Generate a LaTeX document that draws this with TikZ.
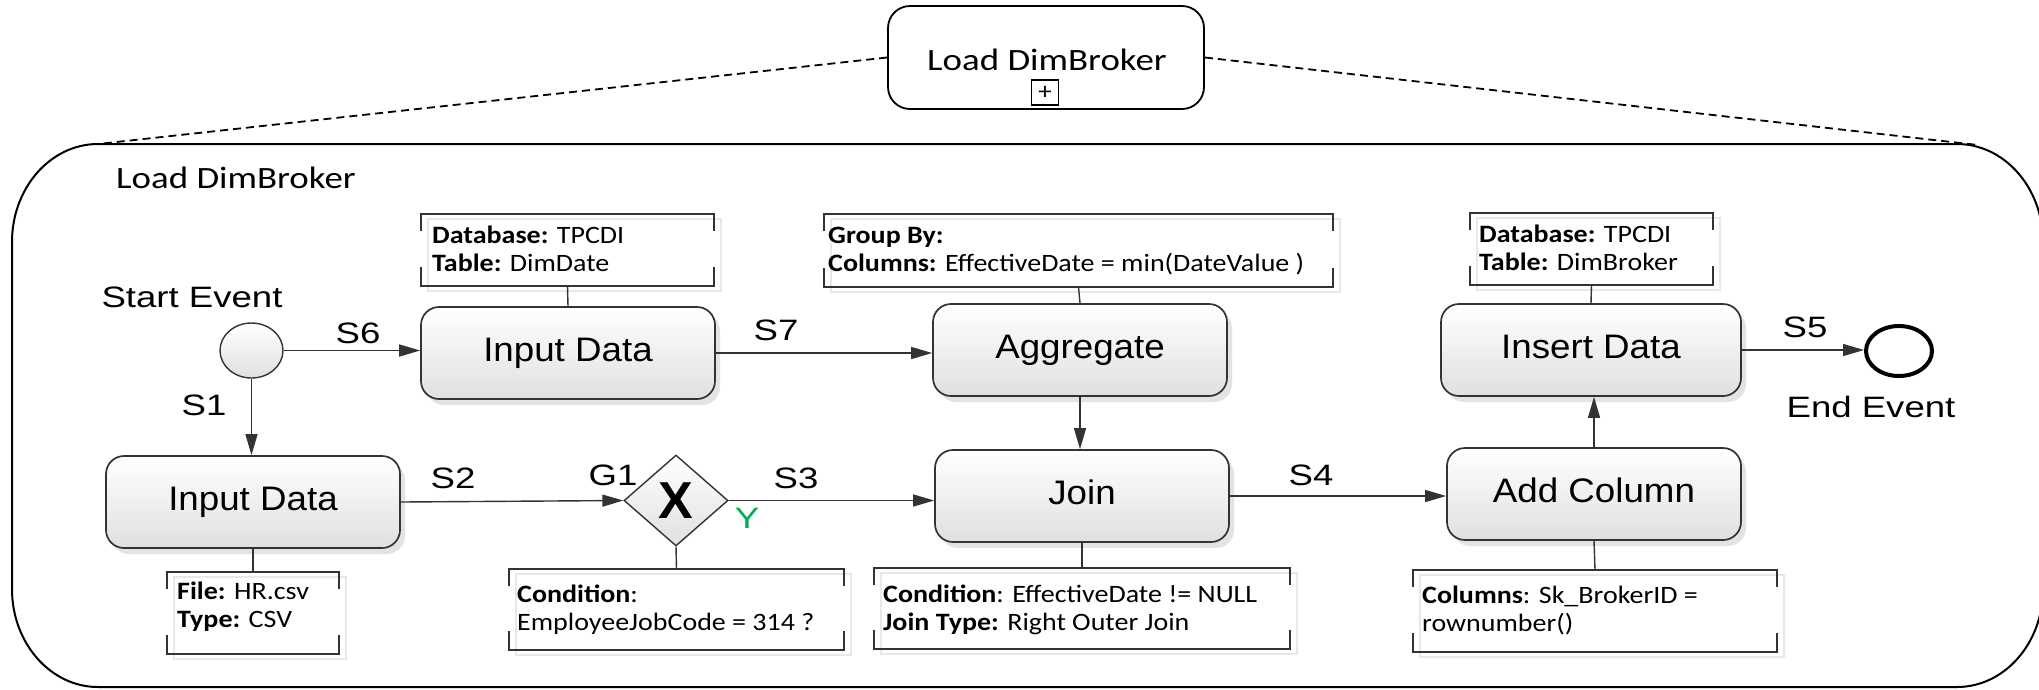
\documentclass[tikz,border=0pt]{standalone}
\usepackage{fontspec}
\usetikzlibrary{arrows.meta,shapes.geometric,shadows,calc}

% Fonts: Calibri-like for titles and annotations, Arial-like for flow labels
\newfontfamily\calfont[FakeStretch=1.12]{Carlito}
\newfontfamily\caltitle[FakeStretch=1.19]{Carlito}
\newfontfamily\arlabel[FakeStretch=1.24]{Liberation Sans}
\newfontfamily\artask[FakeStretch=1.08]{Liberation Sans}
\newfontfamily\argate{Liberation Sans}

\definecolor{edge}{HTML}{333333}
\definecolor{yesgreen}{HTML}{00B050}
\definecolor{taskgray}{HTML}{E0E0E0}

\tikzset{
  task/.style={rectangle, rounded corners=18pt, draw=edge, line width=1.7pt,
    top color=white, bottom color=taskgray, minimum width=294pt, minimum height=92pt,
    inner sep=0pt, text height=24pt, text depth=7pt,
    font=\artask\fontsize{34}{40}\selectfont,
    drop shadow={shadow xshift=5pt, shadow yshift=-6pt, fill=black!20, opacity=.55}},
  flow/.style={draw=edge, line width=1.4pt, -{Triangle[length=21pt,width=12pt]}},
  lbl/.style={anchor=base, inner sep=0pt, font=\arlabel\fontsize{29.5}{34}\selectfont},
  anntext/.style={anchor=base west, inner sep=0pt, font=\calfont\fontsize{25}{28}\selectfont},
  annframe/.style={rectangle, inner sep=0pt, outer sep=0pt},
  annline/.style={draw=edge, line width=1.7pt},
  annshadow/.style={draw=black!9, line width=1.5pt},
  assoc/.style={draw=edge, line width=1.4pt},
  dashline/.style={draw=black, line width=1.8pt, dash pattern=on 8pt off 5pt},
}

% text annotation: name, centre x, centre y, width, height, text x, first baseline, line 1, line 2
\newcommand\annot[9]{%
  \node[annframe, minimum width=#4pt, minimum height=#5pt] (#1) at (#2,#3) {};
  \draw[annshadow] ([shift={(7pt,-5pt)}]#1.north west) rectangle ([shift={(7pt,-5pt)}]#1.south east);
  \draw[annline] ([yshift=-17pt]#1.north west) -- (#1.north west) -- (#1.north east) -- ([yshift=-17pt]#1.north east);
  \draw[annline] ([yshift=19pt]#1.south west) -- (#1.south west) -- (#1.south east) -- ([yshift=19pt]#1.south east);
  \node[anntext] (#1-a) at (#6,#7) {#8};
  \node[anntext] (#1-b) at (#6,#7+28) {#9};
}

\begin{document}
\begin{tikzpicture}[x=1pt, y=-1pt]
\useasboundingbox (0,0) rectangle (2039,689);

% expanded sub-process frame with elliptic corners
\draw[line width=2pt]
  (98,144) -- (1957,144)
  arc[start angle=-90, end angle=0, x radius=86, y radius=98] -- (2043,589)
  arc[start angle=0, end angle=90, x radius=86, y radius=98] -- (98,687)
  arc[start angle=90, end angle=180, x radius=86, y radius=98] -- (12,242)
  arc[start angle=180, end angle=270, x radius=86, y radius=98] -- cycle;
\coordinate (cTL) at (98,144);
\coordinate (cTR) at (1978,145);
\node[anchor=base west, inner sep=0pt, font=\caltitle\fontsize{31}{36}\selectfont] (frameTitle) at (116,188) {Load DimBroker};

% collapsed sub-process
\node[rectangle, rounded corners=22pt, draw=black, line width=1.8pt, fill=white,
      minimum width=316pt, minimum height=103pt] (sub) at (1046,57.5) {};
\node[anchor=base, inner sep=0pt, font=\caltitle\fontsize{31}{36}\selectfont] (subTitle) at (1047,70) {Load DimBroker};
\node[draw=black, line width=1.2pt, minimum width=27pt, minimum height=25pt, inner sep=0pt,
      font=\calfont\fontsize{24}{26}\selectfont] (plus) at (1045,92.5) {+};
\draw[dashline] (sub.west) -- (cTL);
\draw[dashline] (sub.east) -- (cTR);

% events and gateway
\node[ellipse, draw=edge, line width=1.4pt, top color=white, bottom color=taskgray,
      minimum width=63pt, minimum height=55pt, inner sep=0pt] (start) at (251.5,350.5) {};
\node[ellipse, draw=black, line width=4pt, fill=white,
      minimum width=66pt, minimum height=50pt, inner sep=0pt] (end) at (1899,351) {};
\node[diamond, draw=edge, line width=1.4pt, top color=white, bottom color=taskgray,
      minimum width=104pt, minimum height=91pt, shape aspect=1.14, inner sep=0pt,
      font=\argate\bfseries\fontsize{52}{60}\selectfont] (g1) at (676,500.5) {X};

% tasks
\node[task] (inTop) at (568,353) {Input Data};
\node[task] (agg) at (1080,350) {Aggregate};
\node[task, minimum width=300pt] (ins) at (1591,350) {Insert Data};
\node[task] (inBot) at (253,502) {Input Data};
\node[task] (join) at (1082,496) {Join};
\node[task] (addc) at (1594,494) {Add Column};

% annotations
\annot{annDB}{567.5}{250}{293}{72}{432}{243}{{\bfseries Database:} TPCDI}{{\bfseries Table:} DimDate}
\annot{annGB}{1078.5}{250.5}{509}{73}{828}{243}{{\bfseries Group By:}}{{\bfseries Columns:} EffectiveDate = min(DateValue )}
\annot{annIns}{1591.5}{249}{243}{72}{1479}{242}{{\bfseries Database:} TPCDI}{{\bfseries Table:} DimBroker}
\annot{annFile}{253}{613}{172}{82}{177}{599}{{\bfseries File:} HR.csv}{{\bfseries Type:} CSV}
\annot{annCond}{676.5}{609.5}{335}{81}{517}{602}{{\bfseries Condition}:}{EmployeeJobCode = 314 ?}
\annot{annJoin}{1082}{608.5}{416}{81}{883}{602}{{\bfseries Condition}: EffectiveDate != NULL}{{\bfseries Join Type:} Right Outer Join}
\annot{annCol}{1595}{611}{364}{82}{1422}{603}{{\bfseries Columns}: Sk\_BrokerID =}{rownumber()}

% associations
\draw[assoc] (annDB.south) -- (inTop.north);
\draw[assoc] (annGB.south) -- (agg.north);
\draw[assoc] (annIns.south) -- (ins.north);
\draw[assoc] (inBot.south) -- (annFile.north);
\draw[assoc] (g1.south) -- (annCond.north);
\draw[assoc] (join.south) -- (annJoin.north);
\draw[assoc] (addc.south) -- (annCol.north);

% sequence flows
\draw[flow] (start.east) -- (start.east -| inTop.west);
\draw[flow] (start.south) -- (start.south |- inBot.north);
\draw[flow] (inTop.east) -- (inTop.east -| agg.west);
\draw[flow] (agg.south) -- (agg.south |- join.north);
\draw[flow] (inBot.east) -- (g1.west);
\draw[flow] (g1.east) -- (g1.east -| join.west);
\draw[flow] (join.east) -- (join.east -| addc.west);
\draw[flow] (addc.north) -- (addc.north |- ins.south);
\draw[flow] (ins.east) -- (ins.east -| end.west);

% labels
\node[lbl] (lStart) at (192,307) {Start Event};
\node[lbl] (lS6) at (358,343) {S6};
\node[lbl] (lS7) at (776,340) {S7};
\node[lbl] (lS1) at (204,415) {S1};
\node[lbl] (lS2) at (453,488) {S2};
\node[lbl] (lG1) at (613,485) {G1};
\node[lbl] (lS3) at (796,488) {S3};
\node[lbl] (lS4) at (1311,485) {S4};
\node[lbl] (lS5) at (1805,337) {S5};
\node[lbl] (lEnd) at (1871,417) {End Event};
\node[lbl, text=yesgreen] (lY) at (747,528) {Y};
\end{tikzpicture}
\end{document}
